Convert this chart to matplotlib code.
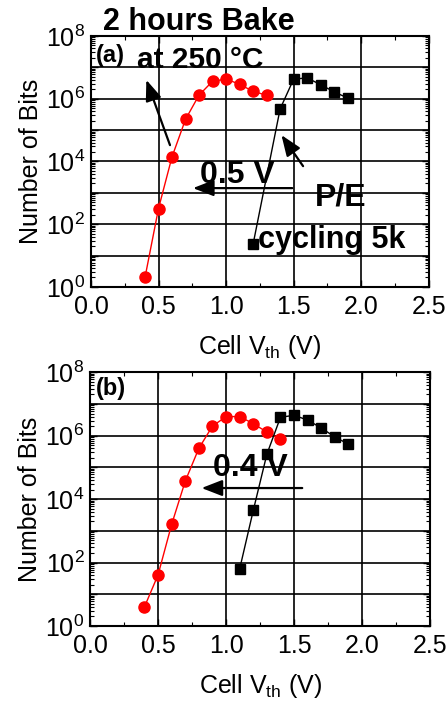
import numpy as np
import matplotlib
matplotlib.use("Agg")
import matplotlib.pyplot as plt
from matplotlib.ticker import LogLocator, FixedLocator, FuncFormatter, NullFormatter

plt.rcParams['font.family'] = ['Liberation Sans', 'DejaVu Sans']
plt.rcParams['mathtext.fontset'] = 'custom'
plt.rcParams['mathtext.rm'] = 'Liberation Sans'
plt.rcParams['mathtext.it'] = 'Liberation Sans'
plt.rcParams['mathtext.default'] = 'regular'

# panel (a): 2 hours bake at 250 C after P/E cycling 5k
vth_a_red = [0.4, 0.5, 0.6, 0.7, 0.8, 0.9, 1.0, 1.1, 1.2, 1.3]
bits_a_red = [2, 316, 1.4e4, 2.2e5, 1.3e6, 3.6e6, 4.2e6, 2.9e6, 1.7e6, 1.3e6]
vth_a_blk = [1.2, 1.4, 1.5, 1.6, 1.7, 1.8, 1.9]
bits_a_blk = [23, 4.7e5, 4.2e6, 4.6e6, 2.8e6, 1.65e6, 1.05e6]

# panel (b)
vth_b_red = [0.4, 0.5, 0.6, 0.7, 0.8, 0.9, 1.0, 1.1, 1.2, 1.3, 1.4]
bits_b_red = [4, 41, 1.6e3, 3.7e4, 4e5, 2e6, 4e6, 4e6, 2.4e6, 1.3e6, 7.6e5]
vth_b_blk = [1.1, 1.2, 1.3, 1.4, 1.5, 1.6, 1.7, 1.8, 1.9]
bits_b_blk = [63, 4.4e3, 2.6e5, 3.8e6, 4.4e6, 3.1e6, 1.75e6, 9.1e5, 5.4e5]

xticks = [0.0, 0.5, 1.0, 1.5, 2.0, 2.5]


def ylab(v, pos):
    e = int(round(np.log10(v)))
    if e % 2 == 0:
        return r'$10^{%d}$' % e
    return ''


def style_axes(ax):
    ax.set_yscale('log')
    ax.set_xlim(0, 2.5)
    ax.set_ylim(1, 1e8)
    ax.xaxis.set_major_locator(FixedLocator(xticks))
    ax.xaxis.set_minor_locator(FixedLocator(np.arange(0.25, 2.5, 0.5)))
    ax.yaxis.set_major_locator(FixedLocator([10.0 ** k for k in range(9)]))
    ax.yaxis.set_major_formatter(FuncFormatter(ylab))
    ax.yaxis.set_minor_locator(LogLocator(base=10, subs=np.arange(2, 10), numticks=20))
    ax.yaxis.set_minor_formatter(NullFormatter())
    ax.xaxis.set_major_formatter(FuncFormatter(lambda v, p: '%.1f' % v))
    ax.tick_params(which='both', direction='in', top=True, right=True, labelsize=18)
    ax.tick_params(which='major', length=5, width=1)
    ax.tick_params(which='minor', length=3, width=0.8)
    ax.tick_params(axis='x', pad=6)
    ax.tick_params(axis='y', pad=4)
    ax.grid(True, which='major', color='black', linewidth=1.2)
    for s in ax.spines.values():
        s.set_linewidth(1.5)
    ax.set_ylabel('Number of Bits', fontsize=18, labelpad=2)
    ax.set_xlabel(r'Cell V$_{\mathrm{th}}$ (V)', fontsize=18, labelpad=10)


fig = plt.figure(figsize=(4.48, 7.05), dpi=100)
ax1 = fig.add_axes([0.203, 0.593, 0.754, 0.356])
ax2 = fig.add_axes([0.201, 0.112, 0.759, 0.360])

for ax in (ax1, ax2):
    style_axes(ax)

ax1.plot(vth_a_red, bits_a_red, '-o', color='red', lw=1, ms=8, mec='red', zorder=3)
ax1.plot(vth_a_blk, bits_a_blk, '-s', color='black', lw=1, ms=6.5, zorder=3)
ax2.plot(vth_b_red, bits_b_red, '-o', color='red', lw=1, ms=8, mec='red', zorder=3)
ax2.plot(vth_b_blk, bits_b_blk, '-s', color='black', lw=1, ms=6.5, zorder=3)

# annotations (a)
ax1.text(0.036, 1.056, '2 hours Bake', transform=ax1.transAxes, fontsize=22,
         fontweight='bold', va='center', ha='left')
ax1.text(0.015, 0.924, '(a)', transform=ax1.transAxes, fontsize=17,
         fontweight='bold', va='center', ha='left')
ax1.text(0.136, 0.904, 'at 250 °C', transform=ax1.transAxes, fontsize=21.5,
         fontweight='bold', va='center', ha='left')
ax1.text(0.322, 0.446, '0.5 V', transform=ax1.transAxes, fontsize=23,
         fontweight='bold', va='center', ha='left')
ax1.text(0.663, 0.355, 'P/E', transform=ax1.transAxes, fontsize=23,
         fontweight='bold', va='center', ha='left')
ax1.text(0.494, 0.155, 'cycling 5k', transform=ax1.transAxes, fontsize=22,
         fontweight='bold', va='baseline', ha='left')
arw = dict(arrowstyle='-|>,head_length=0.9,head_width=0.35', color='black', lw=1.6,
           mutation_scale=14, shrinkA=0, shrinkB=0)
ax1.annotate('', xy=(0.755, 10 ** 3.15), xytext=(1.49, 10 ** 3.15), arrowprops=arw)
ax1.annotate('', xy=(0.41, 10 ** 6.6), xytext=(0.585, 10 ** 4.52), arrowprops=arw)
ax1.annotate('', xy=(1.41, 10 ** 4.84), xytext=(1.57, 10 ** 3.85), arrowprops=arw)

# annotations (b)
ax2.text(0.018, 0.937, '(b)', transform=ax2.transAxes, fontsize=17,
         fontweight='bold', va='center', ha='left')
ax2.text(0.362, 0.622, '0.4 V', transform=ax2.transAxes, fontsize=23,
         fontweight='bold', va='center', ha='left')
ax2.annotate('', xy=(0.82, 10 ** 4.35), xytext=(1.56, 10 ** 4.35), arrowprops=arw)

fig.savefig('out.png', dpi=100)
